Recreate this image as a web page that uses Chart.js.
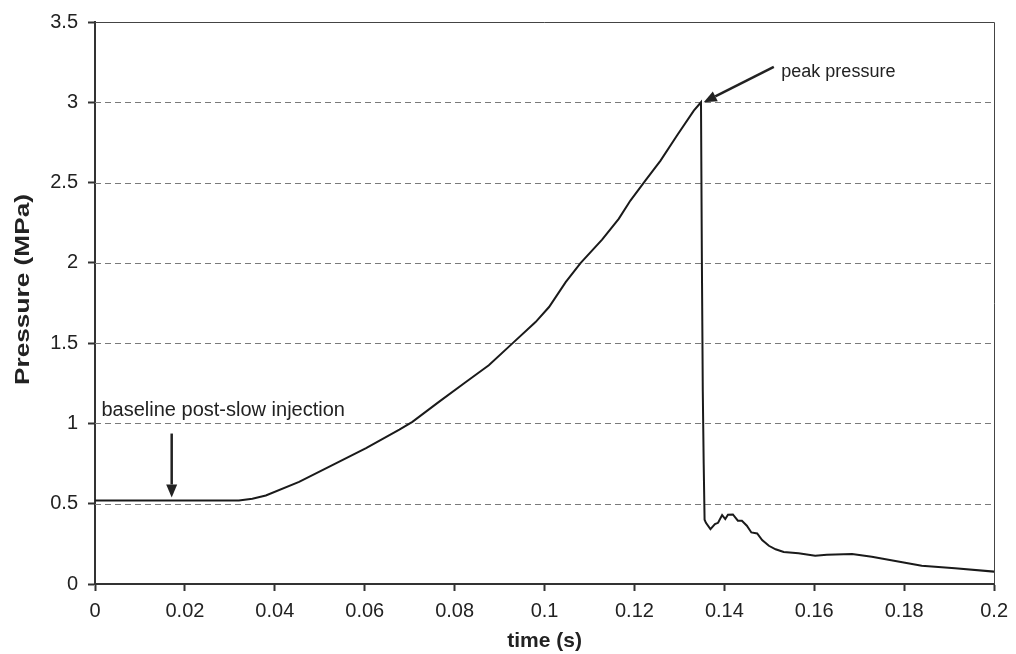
<!DOCTYPE html>
<html>
<head>
<meta charset="utf-8">
<title>Pressure vs time</title>
<script src="https://cdn.jsdelivr.net/npm/chart.js"></script>
<style>
  html, body { margin: 0; padding: 0; background: #fff; }
</style>
</head>
<body>
<canvas id="chart" width="1016" height="654"></canvas>
<script>
// values
const timeS = [
  0, 0.01, 0.02, 0.032, 0.035, 0.038, 0.0454, 0.0528, 0.0603, 0.0677, 0.0706,
  0.0765, 0.0825, 0.0876, 0.0928, 0.098, 0.101, 0.1047, 0.108, 0.1128, 0.1165,
  0.1191, 0.1225, 0.1258, 0.1295, 0.1332, 0.1348, 0.135, 0.1352, 0.1354, 0.1356,
  0.1359, 0.1369, 0.1379, 0.1386, 0.1395, 0.1402, 0.1408, 0.1419, 0.143, 0.1439,
  0.145, 0.146, 0.1473, 0.1484, 0.1499, 0.1514, 0.1532, 0.1565, 0.1602, 0.1628,
  0.1684, 0.1728, 0.1802, 0.1839, 0.1913, 0.2
];
const pressureMPa = [
  0.52, 0.52, 0.52, 0.52, 0.531, 0.551, 0.636, 0.74, 0.846, 0.962, 1.01,
  1.134, 1.258, 1.362, 1.497, 1.631, 1.725, 1.88, 1.998, 2.145, 2.274,
  2.388, 2.515, 2.637, 2.795, 2.948, 3.0, 2.0, 1.2, 0.75, 0.40,
  0.381, 0.342, 0.373, 0.381, 0.429, 0.404, 0.431, 0.433, 0.394, 0.394,
  0.363, 0.321, 0.315, 0.274, 0.238, 0.216, 0.199, 0.191, 0.176, 0.182,
  0.187, 0.170, 0.133, 0.114, 0.098, 0.077
];

const xTicks = [0, 0.02, 0.04, 0.06, 0.08, 0.1, 0.12, 0.14, 0.16, 0.18, 0.2];
const xTickLabels = ['0', '0.02', '0.04', '0.06', '0.08', '0.1', '0.12', '0.14', '0.16', '0.18', '0.2'];
const yTicks = [0, 0.5, 1, 1.5, 2, 2.5, 3, 3.5];
const yTickLabels = ['0', '0.5', '1', '1.5', '2', '2.5', '3', '3.5'];

// callouts, placed in data units
const callouts = [
  { text: 'baseline post-slow injection', size: 20, at: [0.00144, 1.045], from: [0.01706, 0.937], to: [0.01706, 0.539] },
  { text: 'peak pressure', size: 18, at: [0.15267, 3.16], from: [0.1510, 3.22], to: [0.1354, 3.0] }
];

const FONT = "'Liberation Sans', Arial, sans-serif";
const INK = '#222';
const Y_TITLE = 'Pressure (MPa)';

const extras = {
  id: 'extras',
  beforeDatasetsDraw(chart) {
    const { ctx, chartArea: a, scales: { y } } = chart;
    ctx.save();
    // dashed horizontal grid
    ctx.strokeStyle = '#7a7a7a';
    ctx.lineWidth = 1;
    ctx.setLineDash([6, 4]);
    yTicks.forEach(v => {
      if (v <= 0 || v >= 3.5) return;
      const py = Math.round(y.getPixelForValue(v)) + 0.5;
      ctx.beginPath();
      ctx.moveTo(a.left, py);
      ctx.lineTo(a.right, py);
      ctx.stroke();
    });
    // thin frame on top and right
    ctx.setLineDash([]);
    ctx.strokeStyle = '#444';
    ctx.beginPath();
    ctx.moveTo(a.left, Math.round(a.top) + 0.5);
    ctx.lineTo(Math.round(a.right) + 0.5, Math.round(a.top) + 0.5);
    ctx.lineTo(Math.round(a.right) + 0.5, a.bottom);
    ctx.stroke();

    // y title, wide lettering like the original
    ctx.translate(23, a.top + (a.bottom - a.top) * 0.476);
    ctx.rotate(-Math.PI / 2);
    ctx.scale(1.25, 1);
    ctx.font = 'bold 21px ' + FONT;
    ctx.fillStyle = INK;
    ctx.textAlign = 'center';
    ctx.textBaseline = 'middle';
    ctx.fillText(Y_TITLE, 0, 0);
    ctx.restore();
  },
  afterDatasetsDraw(chart) {
    const { ctx, scales: { x, y } } = chart;
    ctx.save();
    callouts.forEach(c => {
      ctx.font = c.size + 'px ' + FONT;
      ctx.fillStyle = INK;
      ctx.textBaseline = 'alphabetic';
      ctx.fillText(c.text, x.getPixelForValue(c.at[0]), y.getPixelForValue(c.at[1]));

      const x1 = x.getPixelForValue(c.from[0]), y1 = y.getPixelForValue(c.from[1]);
      const x2 = x.getPixelForValue(c.to[0]), y2 = y.getPixelForValue(c.to[1]);
      const ang = Math.atan2(y2 - y1, x2 - x1);
      const len = 13, half = 5.5;
      const bx = x2 - len * Math.cos(ang), by = y2 - len * Math.sin(ang);
      ctx.strokeStyle = INK;
      ctx.lineWidth = 2.5;
      ctx.beginPath();
      ctx.moveTo(x1, y1);
      ctx.lineTo(bx, by);
      ctx.stroke();
      ctx.fillStyle = INK;
      ctx.beginPath();
      ctx.moveTo(x2, y2);
      ctx.lineTo(bx + half * Math.sin(ang), by - half * Math.cos(ang));
      ctx.lineTo(bx - half * Math.sin(ang), by + half * Math.cos(ang));
      ctx.closePath();
      ctx.fill();
    });
    ctx.restore();
  }
};

new Chart(document.getElementById('chart'), {
  type: 'line',
  data: {
    datasets: [{
      data: timeS.map((t, i) => ({ x: t, y: pressureMPa[i] })),
      borderColor: '#1a1a1a',
      borderWidth: 2,
      pointRadius: 0,
      tension: 0,
      fill: false
    }]
  },
  options: {
    responsive: false,
    animation: false,
    layout: { padding: { top: 21, right: 20, left: 0, bottom: 0 } },
    plugins: { legend: { display: false }, tooltip: { enabled: false } },
    scales: {
      x: {
        type: 'linear',
        min: 0,
        max: 0.2,
        afterBuildTicks: s => { s.ticks = xTicks.map(v => ({ value: v })); },
        afterFit: s => { s.height = 70; },
        ticks: {
          callback: (v, i) => xTickLabels[i],
          font: { family: FONT, size: 20 },
          color: INK,
          padding: 8,
          maxRotation: 0
        },
        grid: { drawOnChartArea: false, drawTicks: true, tickLength: 7, tickWidth: 2, tickColor: '#333' },
        border: { display: true, color: '#333', width: 2 },
        title: {
          display: true,
          text: 'time (s)',
          font: { family: FONT, size: 21, weight: 'bold' },
          color: INK,
          padding: { top: 2, bottom: 0 }
        }
      },
      y: {
        type: 'linear',
        min: 0,
        max: 3.5,
        afterBuildTicks: s => { s.ticks = yTicks.map(v => ({ value: v })); },
        afterFit: s => { s.width = 95; },
        ticks: {
          callback: (v, i) => yTickLabels[i],
          font: { family: FONT, size: 20 },
          color: INK,
          padding: 10
        },
        grid: { drawOnChartArea: false, drawTicks: true, tickLength: 7, tickWidth: 2, tickColor: '#333' },
        border: { display: true, color: '#333', width: 2 },
        title: { display: false }
      }
    }
  },
  plugins: [extras]
});
</script>
</body>
</html>
